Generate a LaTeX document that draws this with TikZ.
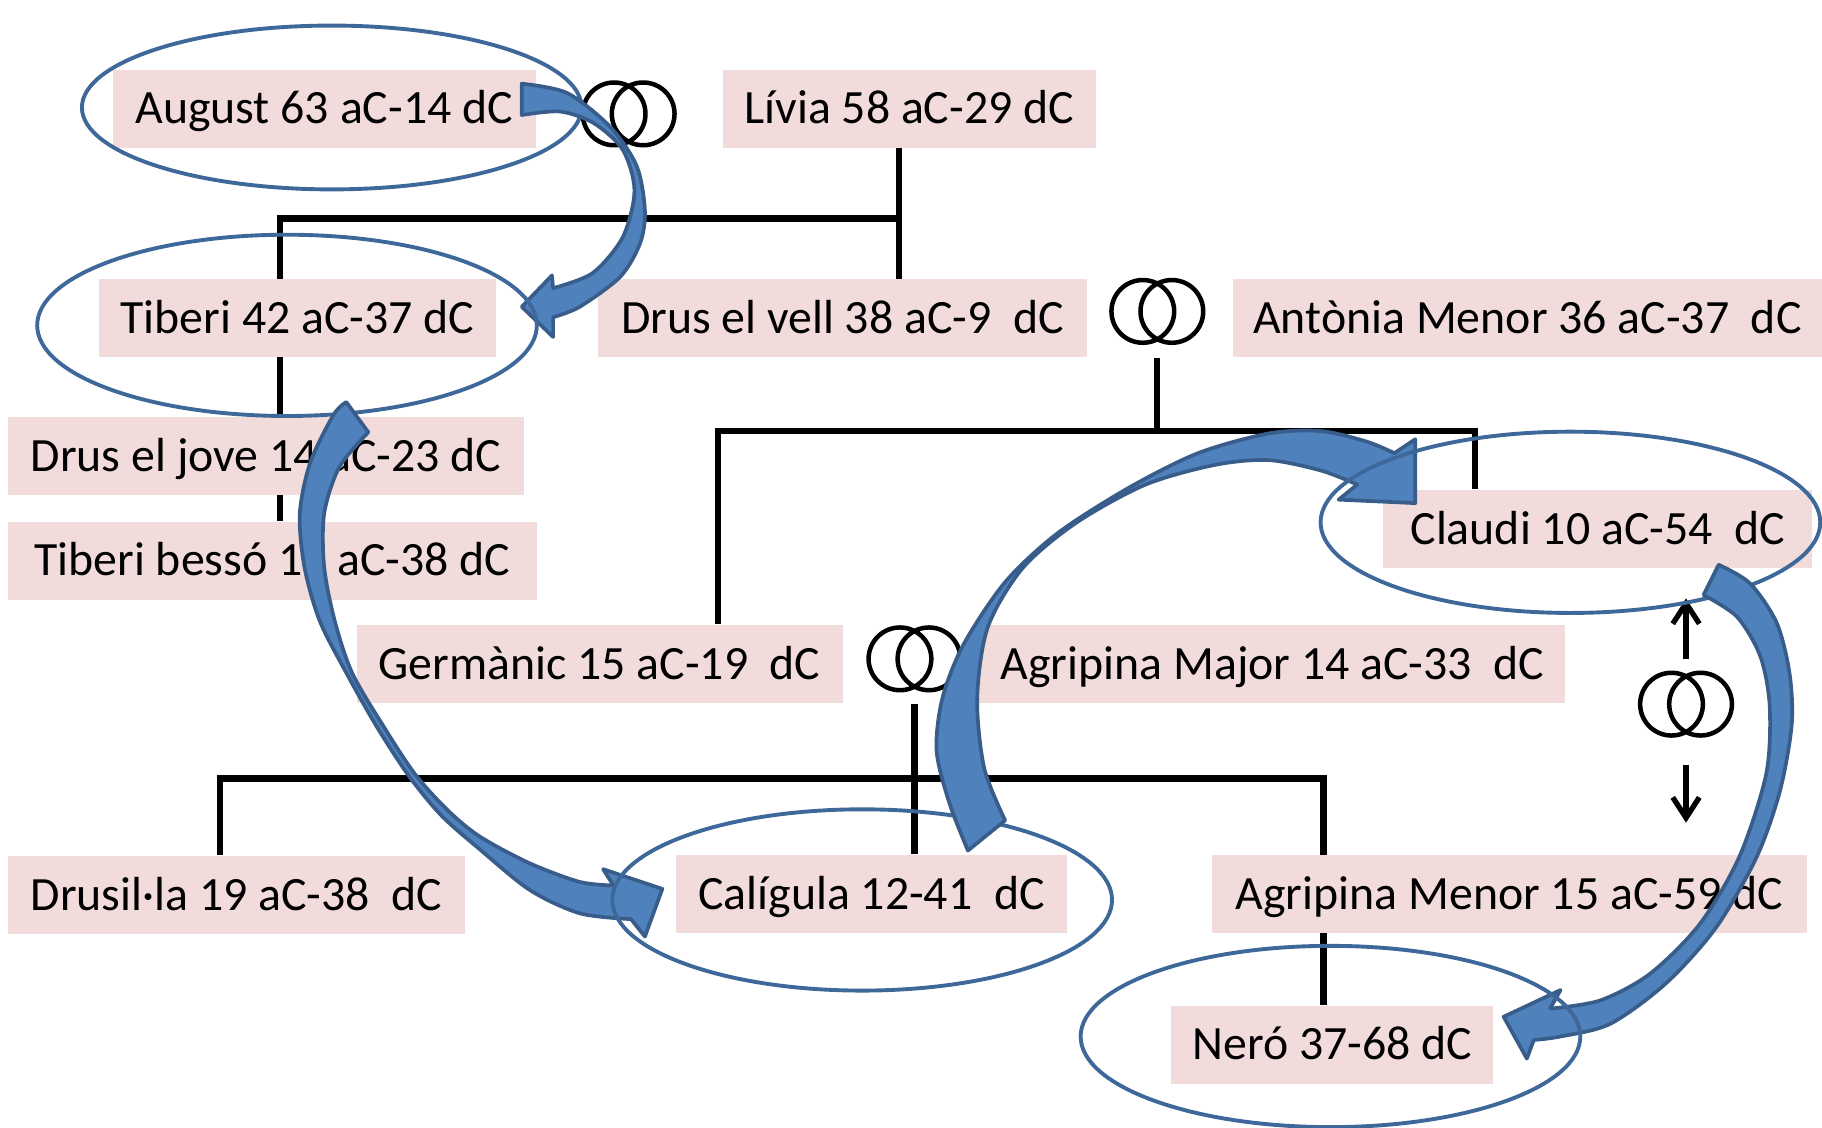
\documentclass[tikz,border=0pt]{standalone}
\usepackage{fontspec}
\setmainfont{Carlito}
\usetikzlibrary{arrows.meta}
\pgfdeclarelayer{bg}
\pgfsetlayers{bg,main}
\definecolor{boxpink}{HTML}{F2DCDB}
\definecolor{arrfill}{HTML}{4F81BD}
\definecolor{arrline}{HTML}{385D8A}
\definecolor{ellline}{HTML}{3D6899}
\begin{document}
\begin{tikzpicture}[x=0.01cm,y=-0.01cm,
  person/.style={rectangle, fill=boxpink, inner sep=0pt, minimum height=0.67cm,
    text height=8.5pt, text depth=1pt,
    font=\fontsize{11.7pt}{14pt}\selectfont, text=black},
  tree/.style={line width=1.5pt, draw=black},
  ell/.style={draw=ellline, line width=0.95pt},
  bigarrow/.style={fill=arrfill, draw=arrline, line width=0.9pt, line join=round},
  ringline/.style={draw=black, line width=1.1pt},
  marr/.style={draw=black, line width=1.3pt, -{Straight Barb[length=5pt,width=6.5pt]}},
  rings/.pic={\draw[ringline] (-12.5,0) circle[radius=27] (12.5,0) circle[radius=27];}
]
\useasboundingbox (0,0) rectangle (1568,970);

% people
\node[person, minimum width=3.64cm] (august)   at (279,93.5)    {August 63 aC-14 dC};
\node[person, minimum width=3.21cm] (livia)    at (782.5,93.5)  {Lívia 58 aC-29 dC};
\node[person, minimum width=3.42cm] (tiberi)   at (256,274)     {Tiberi 42 aC-37 dC};
\node[person, minimum width=4.20cm] (drusvell) at (725,274)     {Drus el vell 38 aC-9~~dC};
\node[person, minimum width=5.07cm] (antonia)  at (1314.5,274)  {Antònia Menor 36 aC-37~~dC};
\node[person, minimum width=4.44cm] (drusjove) at (229,392.5)   {Drus el jove 14 aC-23 dC};
\node[person, minimum width=4.55cm] (tiberib)  at (234.5,482.5) {Tiberi bessó 19 aC-38 dC};
\node[person, minimum width=3.69cm] (claudi)   at (1375,455)    {Claudi 10 aC-54~~dC};
\node[person, minimum width=4.18cm] (germanic) at (516,571.5)   {Germànic 15 aC-19~~dC};
\node[person, minimum width=5.04cm] (agripmaj) at (1095,571.5)  {Agripina Major 14 aC-33~~dC};
\node[person, minimum width=3.93cm] (drusilla) at (203.5,770)   {Drusil·la 19 aC-38~~dC};
\node[person, minimum width=3.36cm] (caligula) at (750,769.5)   {Calígula 12-41~~dC};
\node[person, minimum width=5.12cm] (agripmen) at (1299,769.5)  {Agripina Menor 15 aC-59 dC};
\node[person, minimum width=2.77cm] (nero)     at (1146.5,899)  {Neró 37-68 dC};

% junctions
\coordinate (xA) at (774,188);
\coordinate (xT) at (241,188);
\coordinate (xB) at (996,371);
\coordinate (xG) at (618,371);
\coordinate (xC) at (1269,371);
\coordinate (xD) at (787,670);
\coordinate (xL) at (189,670);
\coordinate (xR) at (1139,670);

\begin{pgfonlayer}{bg}
\draw[tree] (xA |- livia.south) -- (xA |- drusvell.north);
\draw[tree] (xA) -- (xT) -- (xT |- tiberib.north);
\draw[tree] (xB |- antonia.south) -- (xB);
\draw[tree] (xG |- germanic.north) -- (xG) -- (xC) -- (xC |- claudi.north);
\draw[tree] (xD |- agripmaj.south) -- (xD |- caligula.north);
\draw[tree] (xL |- drusilla.north) -- (xL) -- (xR) -- (xR |- nero.north);
\end{pgfonlayer}

% marriage rings
\pic at (541,98) {rings};
\pic at (996,268) {rings};
\pic at (787,567) {rings};
\pic at (1451,606) {rings};
\draw[marr] (1451,567) -- (1451,515);
\draw[marr] (1451,658) -- (1451,708);

% ellipses and succession arrows
\draw[ell] (285.5,92.5) ellipse [x radius=215, y radius=70.5];
\path[bigarrow] plot[smooth] coordinates {(449,72) (488,80) (525,109) (548,143) (555,181) (551,209) (534,238) (499,264) (476,273)}
  -- (476,290) -- (449,264) -- (475,237)
  -- plot[smooth] coordinates {(476,248) (510,235) (536,204) (546,164) (536,129) (511,106) (482,96) (449,99)} -- cycle;

\draw[ell] (247,280) ellipse [x radius=215, y radius=78];
\path[bigarrow] plot[smooth] coordinates {(298,346) (287,357) (267,398) (258,442) (262,488) (275,534) (298,579) (324,625) (352,668) (380,702) (413,731) (456,766) (499,786) (543,791)}
  -- (555,806) -- (570,765) -- (519,748)
  -- plot[smooth] coordinates {(528,762) (499,759) (456,743) (413,720) (385,697) (357,666) (330,625) (303,579) (288,534) (279,488) (279,442) (292,402) (317,372)} -- cycle;

\draw[ell] (742,774.5) ellipse [x radius=215, y radius=78];
\path[bigarrow] plot[smooth] coordinates {(833,732) (817,691) (806,646) (811,601) (829,555) (865,501) (910,459) (971,420) (1031,390) (1092,373) (1137,371) (1176,380) (1200,390)}
  -- (1218,378) -- (1218,433) -- (1152,430)
  -- plot[smooth] coordinates {(1168,417) (1137,405) (1092,396) (1046,400) (986,417) (926,450) (880,489) (850,540) (841,601) (847,661) (865,706)} -- cycle;

\draw[ell] (1351.5,449.5) ellipse [x radius=215, y radius=78];
\path[bigarrow] plot[smooth] coordinates {(1479,486) (1506,502) (1529,536) (1540,579) (1542,623) (1532,680) (1512,737) (1477,798) (1434,846) (1386,881) (1343,892) (1320,895)}
  -- (1314,911) -- (1294,875) -- (1343,852)
  -- plot[smooth] coordinates {(1334,868) (1377,861) (1420,838) (1463,795) (1497,737) (1520,666) (1523,608) (1515,565) (1495,531) (1466,512)} -- cycle;

\draw[ell] (1145,892) ellipse [x radius=215, y radius=78];
\end{tikzpicture}
\end{document}
